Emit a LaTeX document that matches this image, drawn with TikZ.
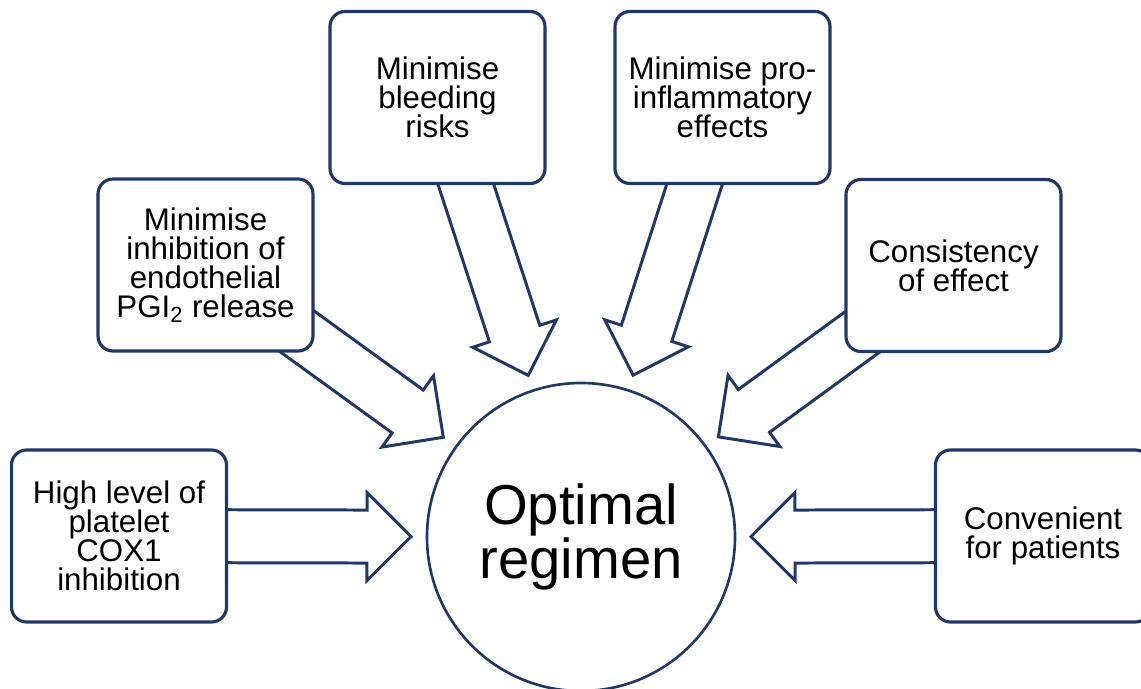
\documentclass[tikz,border=0pt]{standalone}
\usepackage{fontspec}
\setmainfont{Liberation Sans}
\usetikzlibrary{calc,backgrounds}
\definecolor{navy}{HTML}{1F3864}

\tikzset{
  goal/.style={draw=navy,line width=1.8pt,fill=white,rounded corners=0.3cm,
    minimum width=4.3cm,minimum height=3.44cm,align=center,inner sep=0pt,
    font=\fontsize{17.8}{16.6}\selectfont},
  aim/.style={circle,draw=navy,line width=1.5pt,fill=white,minimum size=6.16cm,
    align=center,inner sep=0pt,font=\fontsize{32}{28.5}\selectfont},
  fat/.style={draw=navy,line width=1.7pt,fill=white,line join=miter}
}

% hollow block arrow from a box towards the circle
\newcommand{\fatarrow}[1]{%
  \coordinate (tip) at ($(reg.center)!3.4cm!(#1.center)$);
  \coordinate (neck) at ($(reg.center)!4.28cm!(#1.center)$);
  \draw[fat] ($(#1.center)!0.53cm!90:(tip)$) -- ($(neck)!0.53cm!90:(tip)$)
    -- ($(neck)!0.88cm!90:(tip)$) -- (tip) -- ($(neck)!0.88cm!-90:(tip)$)
    -- ($(neck)!0.53cm!-90:(tip)$) -- ($(#1.center)!0.53cm!-90:(tip)$) -- cycle;
}

\begin{document}
\begin{tikzpicture}[line cap=round,line join=round]
  \useasboundingbox (0,0) rectangle (22.82,13.76);
  \node[aim] (reg) at (11.62,3.02) {Optimal\\regimen};
  \node[goal] (high) at (2.38,3.04) {High level of\\platelet\\COX1\\inhibition};
  \node[goal] (pgi) at (4.11,8.46) {Minimise\\inhibition of\\endothelial\\PGI\textsubscript{2} release};
  \node[goal] (bleed) at (8.75,11.81) {Minimise\\bleeding\\risks};
  \node[goal] (inflam) at (14.45,11.81) {Minimise pro-\\inflammatory\\effects};
  \node[goal] (consist) at (19.07,8.45) {Consistency\\of effect};
  \node[goal] (conv) at (20.86,3.04) {Convenient\\for patients};
  \begin{scope}[on background layer]
    \fatarrow{high}
    \fatarrow{pgi}
    \fatarrow{bleed}
    \fatarrow{inflam}
    \fatarrow{consist}
    \fatarrow{conv}
  \end{scope}
\end{tikzpicture}
\end{document}
